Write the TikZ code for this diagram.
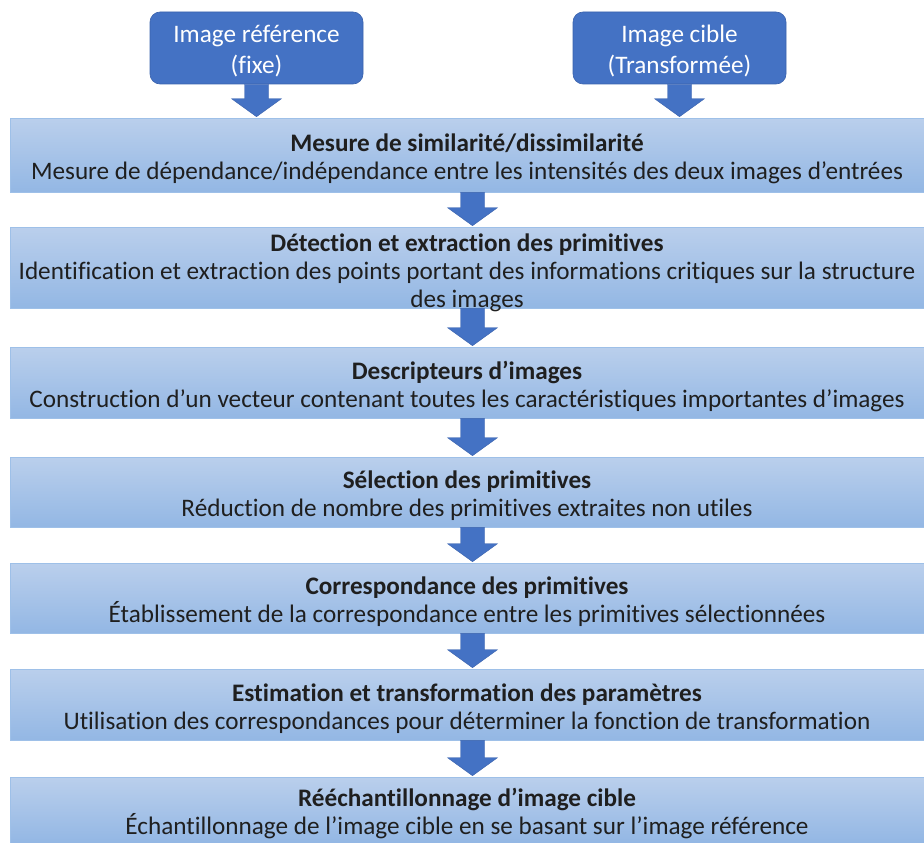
\documentclass[tikz,border=0pt]{standalone}
\usepackage{fontspec}
\setmainfont[Ligatures=NoCommon]{Carlito}
\usetikzlibrary{calc, positioning}

\definecolor{boxtop}{RGB}{186,207,236}
\definecolor{boxbottom}{RGB}{147,183,228}
\definecolor{boxline}{RGB}{158,192,232}
\definecolor{accent}{RGB}{68,114,196}
\definecolor{accentline}{RGB}{58,98,172}

\newcommand{\stagetext}[3][26pt]{\rule{0pt}{#1}\textbf{#2}\\#3}
\newcommand{\sourcetext}[2]{\rule{0pt}{23pt}#1\\#2}
\newcommand{\blockarrow}[2]{%
  \filldraw[arrowblock] ($(#1)+(-12,0)$) -- ($(#1)+(12,0)$)
    -- ($(#2)+(12,-19)$) -- ($(#2)+(25,-19)$) -- ($(#2)+(0,-1)$)
    -- ($(#2)+(-25,-19)$) -- ($(#2)+(-12,-19)$) -- cycle;}

\begin{document}
\begin{tikzpicture}[x=1pt, y=-1pt,
    every node/.style={font=\fontsize{25.2}{28}\selectfont},
    stage/.style={draw=boxline, line width=0.6pt, top color=boxtop, bottom color=boxbottom,
        minimum width=914pt, minimum height=72pt, inner sep=0pt, align=center, text=black!88},
    source/.style={draw=accentline, line width=0.6pt, fill=accent, rounded corners=10pt,
        minimum width=213pt, minimum height=72pt, inner sep=0pt, align=center, text=white,
        font=\fontsize{25.2}{31}\selectfont},
    arrowblock/.style={draw=accentline, line width=0.4pt, fill=accent}]
            \useasboundingbox (0,0) rectangle (924,843);

            \node[source] (ref) at (256.5,48) {\sourcetext{Image référence}{(fixe)}};
            \node[source] (cible) at (679.5,48) {\sourcetext{Image cible}{(Transformée)}};

            \node[stage, minimum height=74pt] (mesure) at (467,155) {\stagetext{Mesure de similarité/dissimilarité}{Mesure de dépendance/indépendance entre les intensités des deux images d’entrées}};
            \node[stage, minimum height=81pt] (detection) at (467,267.5) {\stagetext[23pt]{Détection et extraction des primitives}{Identification et extraction des points portant des informations critiques sur la structure\\\smash{des images}}};
            \node[stage, minimum height=71pt] (descr) at (467,382.5) {\stagetext{Descripteurs d’images}{Construction d’un vecteur contenant toutes les caractéristiques importantes d’images}};
            \node[stage, minimum height=70pt] (selection) at (467,492) {\stagetext{Sélection des primitives}{Réduction de nombre des primitives extraites non utiles}};
            \node[stage, minimum height=70pt] (corresp) at (467,598) {\stagetext{Correspondance des primitives}{Établissement de la correspondance entre les primitives sélectionnées}};
            \node[stage, minimum height=71pt] (estim) at (467,704.5) {\stagetext{Estimation et transformation des paramètres}{Utilisation des correspondances pour déterminer la fonction de transformation}};
            \node[stage, minimum height=66pt] (reech) at (467,810) {\stagetext{Rééchantillonnage d’image cible}{Échantillonnage de l’image cible en se basant sur l’image référence}};

            \coordinate (axis) at (472.5,0);

            % Connections: inputs to first stage
            \blockarrow{ref.south}{mesure.north -| ref}
            \blockarrow{cible.south}{mesure.north -| cible}

            % Connections: stage to stage
            \blockarrow{mesure.south -| axis}{detection.north -| axis}
            \blockarrow{detection.south -| axis}{descr.north -| axis}
            \blockarrow{descr.south -| axis}{selection.north -| axis}
            \blockarrow{selection.south -| axis}{corresp.north -| axis}
            \blockarrow{corresp.south -| axis}{estim.north -| axis}
            \blockarrow{estim.south -| axis}{reech.north -| axis}

        \end{tikzpicture}
\end{document}
